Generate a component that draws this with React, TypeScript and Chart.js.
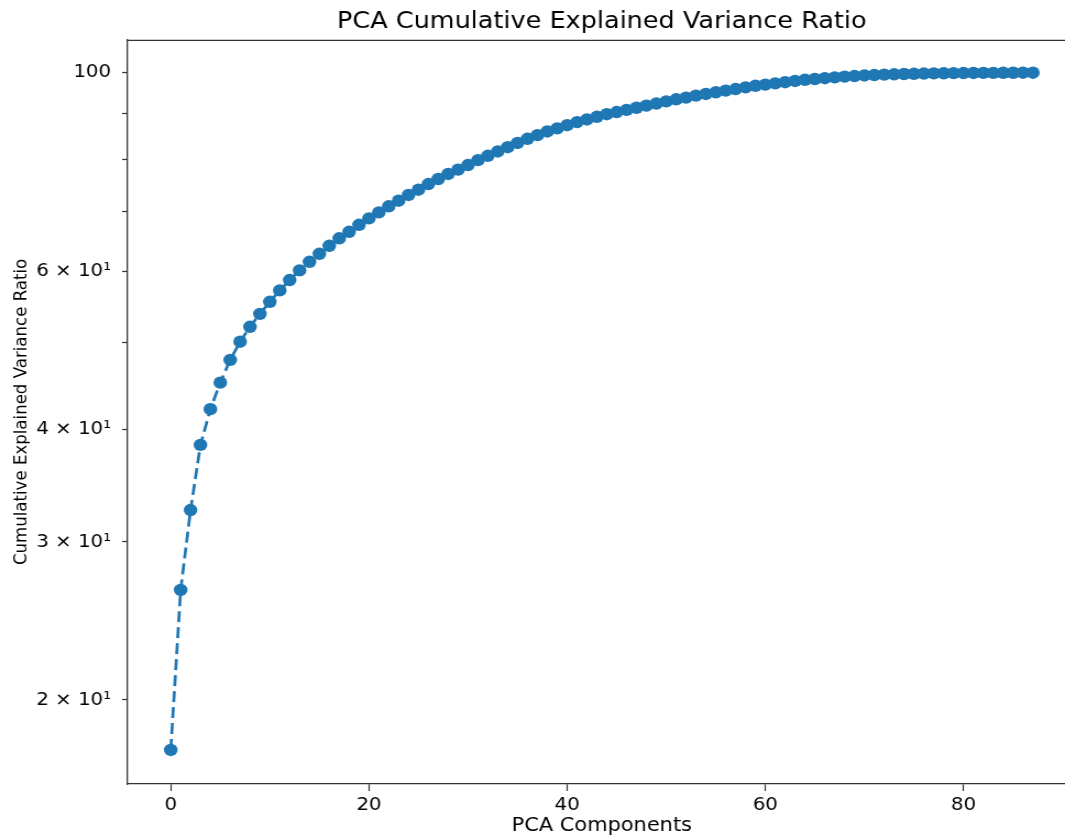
import React, { useEffect, useRef } from "react";
import { Chart, registerables } from "chart.js";

Chart.register(...registerables);

const TITLE = "PCA Cumulative Explained Variance Ratio";
const X_TITLE = "PCA Components";
const Y_TITLE = "Cumulative Explained Variance Ratio";

const components = [
  0, 1, 2, 3, 4, 5, 6, 7, 8, 9, 10, 11, 12, 13, 14, 15, 16, 17, 18, 19, 20, 21,
  22, 23, 24, 25, 26, 27, 28, 29, 30, 31, 32, 33, 34, 35, 36, 37, 38, 39, 40, 41,
  42, 43, 44, 45, 46, 47, 48, 49, 50, 51, 52, 53, 54, 55, 56, 57, 58, 59, 60, 61,
  62, 63, 64, 65, 66, 67, 68, 69, 70, 71, 72, 73, 74, 75, 76, 77, 78, 79, 80, 81,
  82, 83, 84, 85, 86, 87,
];

const cumulativeVariance = [
  17.59, 26.52, 32.56, 38.48, 42.18, 45.15, 47.86, 50.15, 52.1, 53.86, 55.55,
  57.2, 58.74, 60.22, 61.56, 62.84, 64.14, 65.38, 66.49, 67.69, 68.82, 69.89,
  70.98, 72.0, 73.07, 74.07, 75.15, 76.13, 77.12, 77.98, 78.9, 79.9, 80.8, 81.7,
  82.6, 83.5, 84.4, 85.2, 86.0, 86.7, 87.4, 88.1, 88.7, 89.3, 89.9, 90.4, 90.9,
  91.4, 91.9, 92.4, 92.9, 93.4, 93.8, 94.3, 94.7, 95.1, 95.5, 95.9, 96.3, 96.7,
  97.0, 97.3, 97.6, 97.9, 98.2, 98.4, 98.6, 98.8, 99.0, 99.15, 99.3, 99.4, 99.5,
  99.6, 99.67, 99.73, 99.78, 99.82, 99.86, 99.89, 99.92, 99.94, 99.96, 99.97,
  99.98, 99.99, 100.0, 100.0,
];

const xTickValues = [0, 20, 40, 60, 80];
const yTickValues = [20, 30, 40, 50, 60, 70, 80, 90, 100];
const yTickLabels = ["2 × 10¹", "3 × 10¹", "4 × 10¹", "", "6 × 10¹", "", "", "", "100"];

const BLUE = "#1f77b4";
const SPINE = "#333333";
const FONT = "'DejaVu Sans', 'Liberation Sans', sans-serif";

// Internal canvas is drawn narrower and stretched horizontally; the right part
// of the axes falls outside the visible 1065px frame, as in the reference.
const CANVAS_W = 978;
const CANVAS_H = 836;
const DISPLAY_W = 1076;

const topSpine = {
  id: "topSpine",
  afterDraw(chart: any) {
    const { ctx, chartArea } = chart;
    ctx.save();
    ctx.strokeStyle = SPINE;
    ctx.lineWidth = 1.3;
    ctx.beginPath();
    ctx.moveTo(chartArea.left, chartArea.top + 0.5);
    ctx.lineTo(chartArea.right, chartArea.top + 0.5);
    ctx.stroke();
    ctx.restore();
  },
};

export default function App() {
  const ref = useRef<HTMLCanvasElement | null>(null);

  useEffect(() => {
    if (!ref.current) return;
    const points = components.map((c, i) => ({ x: c, y: cumulativeVariance[i] }));
    const chart = new Chart(ref.current, {
      type: "line",
      data: {
        datasets: [
          {
            data: points,
            borderColor: BLUE,
            backgroundColor: BLUE,
            borderWidth: 2.7,
            borderDash: [11, 5],
            pointRadius: 6.2,
            pointBorderWidth: 0,
            pointBackgroundColor: BLUE,
            pointHoverRadius: 6.2,
            tension: 0,
            fill: false,
          },
        ],
      },
      options: {
        responsive: false,
        animation: false,
        devicePixelRatio: 1,
        layout: { padding: 0, autoPadding: false },
        plugins: {
          legend: { display: false },
          tooltip: { enabled: false },
          title: {
            display: true,
            text: TITLE,
            fullSize: false,
            color: "#000",
            font: { family: FONT, size: 23.2, weight: "normal" },
            padding: { top: 8, bottom: 4 },
          },
        },
        scales: {
          x: {
            type: "linear",
            min: -4.35,
            max: 91.35,
            afterFit: (scale: any) => {
              scale.height = 52;
            },
            afterBuildTicks: (scale: any) => {
              scale.ticks = xTickValues.map((v) => ({ value: v }));
            },
            ticks: {
              color: "#000",
              font: { family: FONT, size: 18 },
              padding: 4,
              maxRotation: 0,
              autoSkip: false,
            },
            grid: {
              drawOnChartArea: false,
              drawTicks: true,
              tickLength: 7,
              tickColor: SPINE,
              tickWidth: 1.2,
            },
            border: { display: true, color: SPINE, width: 1.3 },
            title: {
              display: true,
              text: X_TITLE,
              color: "#000",
              font: { family: FONT, size: 19 },
              padding: { top: 0, bottom: -1 },
            },
          },
          y: {
            type: "logarithmic",
            min: 16.12,
            max: 108.8,
            afterFit: (scale: any) => {
              scale.width = 116;
            },
            afterBuildTicks: (scale: any) => {
              scale.ticks = yTickValues.map((v) => ({ value: v }));
            },
            ticks: {
              color: "#000",
              font: { family: FONT, size: 18 },
              padding: 10,
              autoSkip: false,
              callback: (value: any) => {
                const idx = yTickValues.indexOf(Number(value));
                return idx >= 0 ? yTickLabels[idx] : "";
              },
            },
            grid: {
              drawOnChartArea: false,
              drawTicks: true,
              tickLength: 5,
              tickColor: SPINE,
              tickWidth: 1.2,
            },
            border: { display: true, color: SPINE, width: 1.3 },
            title: {
              display: true,
              text: Y_TITLE,
              color: "#000",
              font: { family: FONT, size: 16.6 },
              padding: { top: 10, bottom: 0 },
            },
          },
        },
      },
      plugins: [topSpine],
    });
    return () => chart.destroy();
  }, []);

  return (
    <div
      style={{
        position: "fixed",
        left: 0,
        top: 0,
        width: "1065px",
        height: "836px",
        background: "#fff",
        overflow: "hidden",
      }}
    >
      <canvas
        ref={ref}
        width={CANVAS_W}
        height={CANVAS_H}
        style={{ width: `${DISPLAY_W}px`, height: "836px", display: "block" }}
      />
    </div>
  );
}
